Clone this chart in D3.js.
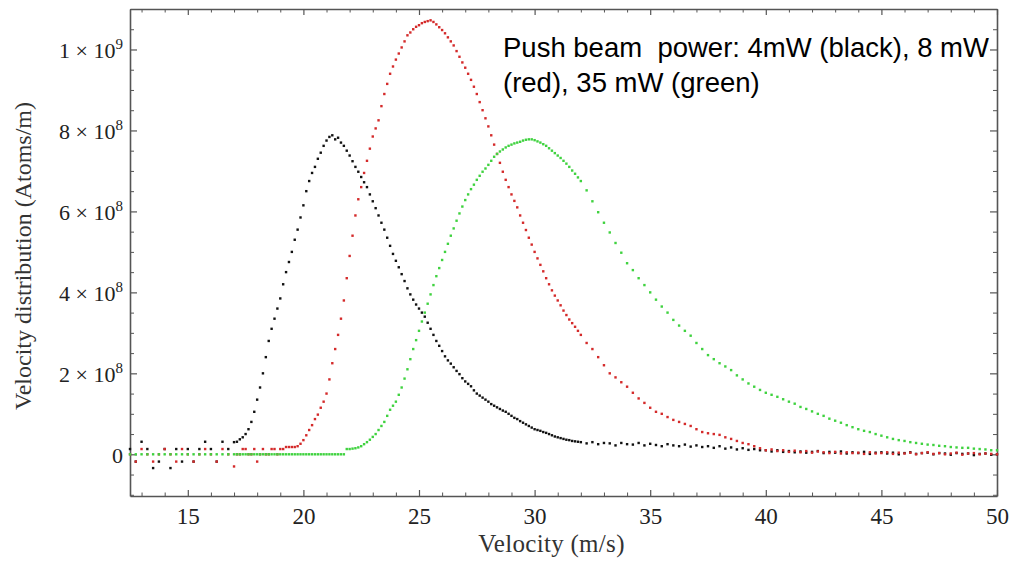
<!DOCTYPE html>
<html>
<head>
<meta charset="utf-8">
<script src="https://cdn.jsdelivr.net/npm/d3@7"></script>
<style>
  body { margin: 0; background: #fff; }
  svg { display: block; }
</style>
</head>
<body>
<div id="container"></div>
<script>
// velocity samples (m/s): 0.25 steps on the flat parts, 0.125 steps where the curves are steep
const velocity = [
  12.5, 12.75, 13, 13.25, 13.5, 13.75, 14, 14.25, 14.5, 14.75,
  15, 15.25, 15.5, 15.75, 16, 16.25, 16.5, 16.75,
  17, 17.125, 17.25, 17.375, 17.5, 17.625, 17.75, 17.875,
  18, 18.125, 18.25, 18.375, 18.5, 18.625, 18.75, 18.875,
  19, 19.125, 19.25, 19.375, 19.5, 19.625, 19.75, 19.875,
  20, 20.125, 20.25, 20.375, 20.5, 20.625, 20.75, 20.875,
  21, 21.125, 21.25, 21.375, 21.5, 21.625, 21.75, 21.875,
  22, 22.125, 22.25, 22.375, 22.5, 22.625, 22.75, 22.875,
  23, 23.125, 23.25, 23.375, 23.5, 23.625, 23.75, 23.875,
  24, 24.125, 24.25, 24.375, 24.5, 24.625, 24.75, 24.875,
  25, 25.125, 25.25, 25.375, 25.5, 25.625, 25.75, 25.875,
  26, 26.125, 26.25, 26.375, 26.5, 26.625, 26.75, 26.875,
  27, 27.125, 27.25, 27.375, 27.5, 27.625, 27.75, 27.875,
  28, 28.125, 28.25, 28.375, 28.5, 28.625, 28.75, 28.875,
  29, 29.125, 29.25, 29.375, 29.5, 29.625, 29.75, 29.875,
  30, 30.125, 30.25, 30.375, 30.5, 30.625, 30.75, 30.875,
  31, 31.125, 31.25, 31.375, 31.5, 31.625, 31.75, 31.875,
  32, 32.25, 32.5, 32.75, 33, 33.25, 33.5, 33.75,
  34, 34.25, 34.5, 34.75, 35, 35.25, 35.5, 35.75,
  36, 36.25, 36.5, 36.75, 37, 37.25, 37.5, 37.75,
  38, 38.25, 38.5, 38.75, 39, 39.25, 39.5, 39.75,
  40, 40.25, 40.5, 40.75, 41, 41.25, 41.5, 41.75,
  42, 42.25, 42.5, 42.75, 43, 43.25, 43.5, 43.75,
  44, 44.25, 44.5, 44.75, 45, 45.25, 45.5, 45.75,
  46, 46.25, 46.5, 46.75, 47, 47.25, 47.5, 47.75,
  48, 48.25, 48.5, 48.75, 49, 49.25, 49.5, 49.75,
  50
];

// distributions in units of 1e8 atoms/m
const black4mW = [
  0.13, -0.18, 0.31, 0.13, -0.34, -0.18, 0.13, -0.34, 0.13, -0.18,
  0.13, -0.18, 0.13, 0.31, 0.13, -0.18, 0.31, 0.13,
  0.3, 0.31, 0.37, 0.42, 0.5, 0.62, 0.8, 1.05,
  1.35, 1.65, 2.0, 2.4, 2.8, 3.1, 3.35, 3.6,
  3.85, 4.2, 4.5, 4.75, 5.0, 5.3, 5.55, 5.85,
  6.15, 6.5, 6.75, 6.95, 7.1, 7.3, 7.45, 7.62,
  7.75, 7.84, 7.88, 7.78, 7.82, 7.7, 7.62, 7.5,
  7.38, 7.24, 7.1, 6.98, 6.85, 6.72, 6.6, 6.42,
  6.25, 6.08, 5.9, 5.72, 5.55, 5.35, 5.15, 4.95,
  4.78, 4.62, 4.45, 4.28, 4.1, 3.95, 3.82, 3.7,
  3.6, 3.5, 3.4, 3.25, 3.1, 2.95, 2.8, 2.68,
  2.55, 2.42, 2.32, 2.24, 2.15, 2.06, 1.98, 1.88,
  1.8, 1.74, 1.68, 1.58, 1.5, 1.45, 1.4, 1.35,
  1.3, 1.24, 1.2, 1.16, 1.12, 1.08, 1.05, 1.0,
  0.95, 0.9, 0.87, 0.82, 0.78, 0.74, 0.7, 0.66,
  0.62, 0.6, 0.58, 0.55, 0.53, 0.5, 0.47, 0.44,
  0.42, 0.4, 0.38, 0.36, 0.35, 0.33, 0.32, 0.31,
  0.3, 0.27, 0.3, 0.25, 0.28, 0.27, 0.22, 0.28,
  0.25, 0.24, 0.28, 0.22, 0.26, 0.23, 0.2, 0.25,
  0.22, 0.2, 0.24, 0.19, 0.22, 0.18, 0.2, 0.16,
  0.2, 0.14, 0.17, 0.12, 0.15, 0.11, 0.13, 0.1,
  0.1, 0.07, 0.1, 0.06, 0.08, 0.05, 0.07, 0.04,
  0.06, 0.08, 0.03, 0.06, 0.04, 0.07, 0.02, 0.05,
  0.03, 0.06, 0.01, 0.04, 0.05, 0.02, 0.04, 0.0,
  0.03, 0.05, 0.01, 0.03, 0.04, 0.0, 0.03, 0.02,
  -0.01, 0.03, 0.01, 0.02, -0.02, 0.01, 0.02, -0.01,
  0.0
];

const red8mW = [
  0, -0.18, 0.13, 0, -0.18, 0, 0.13, 0, -0.18, 0.13,
  0, -0.18, 0, 0.13, 0, -0.18, 0.13, 0,
  -0.3, 0, 0, 0.13, 0.13, 0, 0, 0.13,
  -0.18, 0, 0.13, 0, 0, 0.13, 0.13, 0,
  0.13, 0.13, 0.18, 0.18, 0.18, 0.18, 0.2, 0.26,
  0.35, 0.47, 0.6, 0.72, 0.87, 0.98, 1.15, 1.3,
  1.5, 1.85, 2.25, 2.6, 2.95, 3.35, 3.8, 4.35,
  4.9, 5.4, 5.9, 6.3, 6.6, 6.95, 7.25, 7.55,
  7.85, 8.05, 8.25, 8.6, 8.9, 9.15, 9.4, 9.58,
  9.75, 9.9, 10.05, 10.2, 10.35, 10.42, 10.5, 10.56,
  10.6, 10.65, 10.68, 10.7, 10.72, 10.68, 10.62, 10.55,
  10.48, 10.4, 10.3, 10.2, 10.1, 9.96, 9.82, 9.68,
  9.55, 9.4, 9.25, 9.08, 8.9, 8.7, 8.5, 8.3,
  8.1, 7.88, 7.65, 7.42, 7.2, 6.98, 6.78, 6.6,
  6.42, 6.26, 6.1, 5.9, 5.72, 5.54, 5.35, 5.18,
  5.0, 4.84, 4.68, 4.52, 4.35, 4.2, 4.05, 3.92,
  3.8, 3.68, 3.55, 3.44, 3.33, 3.24, 3.15, 3.05,
  2.95, 2.75, 2.6, 2.4, 2.2, 2.0, 1.9, 1.78,
  1.67, 1.52, 1.38, 1.27, 1.15, 1.05, 1.0, 0.92,
  0.85, 0.8, 0.75, 0.7, 0.62, 0.55, 0.52, 0.5,
  0.48, 0.42, 0.38, 0.33, 0.28, 0.25, 0.2, 0.15,
  0.1, 0.12, 0.08, 0.1, 0.06, 0.09, 0.05, 0.08,
  0.04, 0.07, 0.05, 0.03, 0.06, 0.02, 0.05, 0.03,
  0.04, 0.01, 0.05, 0.02, 0.03, 0.05, 0.01, 0.04,
  0.02, 0.04, 0.0, 0.03, 0.05, 0.01, 0.03, 0.0,
  0.02, 0.04, -0.01, 0.02, 0.03, 0.0, 0.02, 0.01,
  0.0
];

const green35mW = [
  0, 0, 0, 0, 0, 0, 0, 0, 0, 0,
  0, 0, 0, 0, 0, 0, 0, 0,
  0, 0, 0, 0, 0, 0, 0, 0,
  0, 0, 0, 0, 0, 0, 0, 0,
  0, 0, 0, 0, 0, 0, 0, 0,
  0, 0, 0, 0, 0, 0, 0, 0,
  0, 0, 0, 0, 0, 0, 0, 0.13,
  0.13, 0.14, 0.15, 0.17, 0.2, 0.25, 0.3, 0.36,
  0.43, 0.5, 0.6, 0.7, 0.8, 0.95, 1.1, 1.2,
  1.3, 1.47, 1.65, 1.87, 2.1, 2.35, 2.6, 2.82,
  3.05, 3.28, 3.5, 3.72, 3.95, 4.18, 4.4, 4.6,
  4.8, 5.0, 5.2, 5.4, 5.58, 5.77, 5.95, 6.12,
  6.28, 6.42, 6.55, 6.66, 6.78, 6.88, 6.98, 7.06,
  7.15, 7.25, 7.35, 7.42, 7.48, 7.53, 7.58, 7.62,
  7.65, 7.68, 7.7, 7.72, 7.75, 7.77, 7.78, 7.78,
  7.76, 7.73, 7.7, 7.66, 7.62, 7.56, 7.5, 7.44,
  7.38, 7.32, 7.25, 7.18, 7.1, 7.01, 6.93, 6.84,
  6.75, 6.52, 6.25, 5.98, 5.72, 5.48, 5.22, 4.98,
  4.72, 4.55, 4.35, 4.18, 4.0, 3.82, 3.65, 3.5,
  3.32, 3.18, 3.05, 2.93, 2.75, 2.6, 2.45, 2.35,
  2.25, 2.17, 2.08, 1.95, 1.85, 1.75, 1.67, 1.59,
  1.52, 1.47, 1.42, 1.36, 1.3, 1.25, 1.17, 1.12,
  1.06, 1.0, 0.95, 0.88, 0.83, 0.78, 0.72, 0.67,
  0.62, 0.58, 0.55, 0.5, 0.46, 0.42, 0.38, 0.35,
  0.33, 0.3, 0.28, 0.26, 0.24, 0.23, 0.21, 0.2,
  0.18, 0.17, 0.16, 0.16, 0.14, 0.13, 0.12, 0.1,
  0.1
];

const seriesNames = ['4 mW', '8 mW', '35 mW'];
const seriesColors = ['#111111', '#d42a2a', '#3fd23f'];
const seriesValues = [black4mW, red8mW, green35mW];

// ticks
const xTicks = [15, 20, 25, 30, 35, 40, 45, 50];
const yTicks = [0, 2e8, 4e8, 6e8, 8e8, 1e9];
const yTickMantissa = ['0', '2', '4', '6', '8', '1'];
const yTickExponent = ['', '8', '8', '8', '8', '9'];

const xLabel = 'Velocity (m/s)';
const yLabel = 'Velocity distribution (Atoms/m)';
const note = ['Push beam  power: 4mW (black), 8 mW', '(red), 35 mW (green)'];

// canvas
const W = 1013, H = 563;
const plot = { left: 130, right: 997, top: 9, bottom: 496 };

const svg = d3.select('#container')
  .append('svg')
  .attr('width', W)
  .attr('height', H);

svg.append('rect').attr('width', W).attr('height', H).attr('fill', '#fff');

// scales
const xScale = d3.scaleLinear().domain([12.5, 50]).range([plot.left, plot.right]);
const yScale = d3.scaleLinear().domain([-1.03e8, 1.1e9]).range([plot.bottom, plot.top]);

const frameColor = '#555';
const serif = '"Liberation Serif", "DejaVu Serif", serif';

const minorX = d3.range(13, 50, 1).filter(v => v % 5 !== 0);
const minorY = d3.range(-1e8, 1.1e9 + 1, 0.5e8).filter(v => Math.abs(v % 2e8) > 1);

function styleAxis(g) {
  g.select('.domain').attr('stroke', frameColor).attr('stroke-width', 1.6);
  g.selectAll('.tick line').attr('stroke', frameColor).attr('stroke-width', 1.2);
}

// bottom / top, major + minor
const xAxisB = svg.append('g').attr('transform', `translate(0,${plot.bottom})`)
  .call(d3.axisBottom(xScale).tickValues(xTicks).tickSizeInner(-6).tickSizeOuter(0).tickPadding(12).tickFormat(d3.format('d')));
xAxisB.call(styleAxis);
xAxisB.selectAll('.tick text').attr('font-family', serif).attr('font-size', 23).attr('fill', '#222');
svg.append('g').attr('transform', `translate(0,${plot.bottom})`)
  .call(d3.axisBottom(xScale).tickValues(minorX).tickSizeInner(-3.5).tickSizeOuter(0).tickFormat(''))
  .call(g => g.select('.domain').remove())
  .selectAll('.tick line').attr('stroke', frameColor);

svg.append('g').attr('transform', `translate(0,${plot.top})`)
  .call(d3.axisTop(xScale).tickValues(xTicks).tickSizeInner(-6).tickSizeOuter(0).tickFormat(''))
  .call(styleAxis);
svg.append('g').attr('transform', `translate(0,${plot.top})`)
  .call(d3.axisTop(xScale).tickValues(minorX).tickSizeInner(-3.5).tickSizeOuter(0).tickFormat(''))
  .call(g => g.select('.domain').remove())
  .selectAll('.tick line').attr('stroke', frameColor);

// left / right
const yAxisL = svg.append('g').attr('transform', `translate(${plot.left},0)`)
  .call(d3.axisLeft(yScale).tickValues(yTicks).tickSizeInner(-7).tickSizeOuter(0).tickPadding(7));
yAxisL.call(styleAxis);
yAxisL.selectAll('.tick text')
  .attr('font-family', serif)
  .attr('font-size', 22)
  .attr('fill', '#222')
  .attr('dy', '0.36em')
  .each(function (d, i) {
    const t = d3.select(this);
    t.text(null);
    if (yTickExponent[i] === '') {
      t.append('tspan').text(yTickMantissa[i]);
    } else {
      t.append('tspan').text(yTickMantissa[i] + ' \u00d7 10');
      t.append('tspan').attr('dy', -9).attr('font-size', 15).text(yTickExponent[i]);
    }
  });
svg.append('g').attr('transform', `translate(${plot.left},0)`)
  .call(d3.axisLeft(yScale).tickValues(minorY).tickSizeInner(-4).tickSizeOuter(0).tickFormat(''))
  .call(g => g.select('.domain').remove())
  .selectAll('.tick line').attr('stroke', frameColor);

svg.append('g').attr('transform', `translate(${plot.right},0)`)
  .call(d3.axisRight(yScale).tickValues(yTicks).tickSizeInner(-7).tickSizeOuter(0).tickFormat(''))
  .call(styleAxis);
svg.append('g').attr('transform', `translate(${plot.right},0)`)
  .call(d3.axisRight(yScale).tickValues(minorY).tickSizeInner(-4).tickSizeOuter(0).tickFormat(''))
  .call(g => g.select('.domain').remove())
  .selectAll('.tick line').attr('stroke', frameColor);

// points
const dots = svg.append('g');
seriesValues.forEach((vals, s) => {
  dots.append('g')
    .attr('fill', seriesColors[s])
    .attr('data-series', seriesNames[s])
    .selectAll('rect')
    .data(vals.map((v, i) => ({ x: velocity[i], y: v * 1e8 })))
    .join('rect')
    .attr('x', d => xScale(d.x) - 1.2)
    .attr('y', d => yScale(d.y) - 1.2)
    .attr('width', 2.4)
    .attr('height', 2.4);
});

// axis titles
svg.append('text')
  .attr('x', (plot.left + plot.right) / 2 - 12)
  .attr('y', 552)
  .attr('text-anchor', 'middle')
  .attr('font-family', serif)
  .attr('font-size', 25)
  .attr('letter-spacing', 0.3)
  .attr('fill', '#333')
  .text(xLabel);

svg.append('text')
  .attr('transform', `translate(31,256) rotate(-90)`)
  .attr('text-anchor', 'middle')
  .attr('font-family', serif)
  .attr('font-size', 24)
  .attr('fill', '#333')
  .text(yLabel);

// annotation
svg.append('g')
  .selectAll('text')
  .data(note)
  .join('text')
  .attr('x', 503)
  .attr('y', (d, i) => 57 + i * 35)
  .attr('font-family', '"Liberation Sans", Arial, sans-serif')
  .attr('font-size', 27.5)
  .attr('fill', '#000')
  .style('white-space', 'pre')
  .text(d => d);
</script>
</body>
</html>
